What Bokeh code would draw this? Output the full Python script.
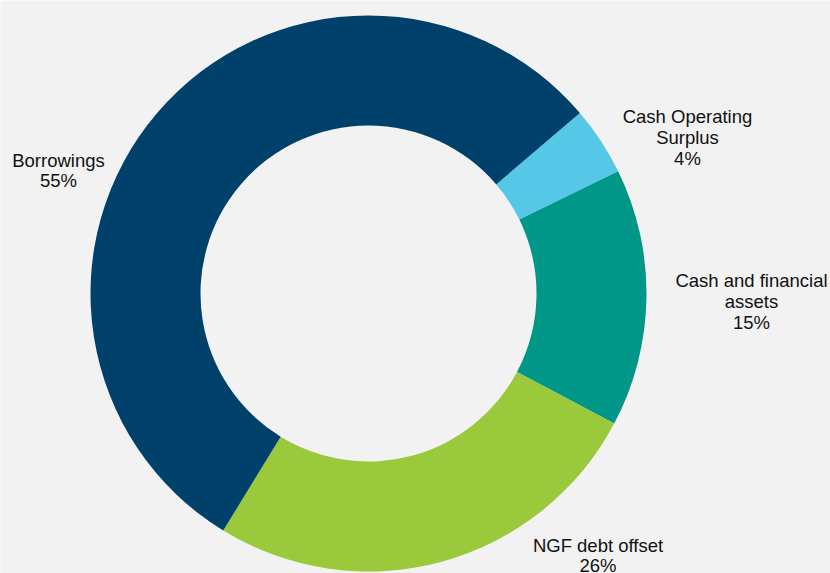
import math
from bokeh.plotting import figure
from bokeh.models import ColumnDataSource, Range1d
from bokeh.core.properties import value
from bokeh.embed import file_html
from bokeh.resources import INLINE

# Data
categories = ["Cash Operating\nSurplus", "Cash and financial\nassets", "NGF debt offset", "Borrowings"]
shares = [4, 15, 26, 55]
colors = ["#55c8e8", "#009688", "#9bc93c", "#00416c"]
label_x = [687, 751, 597.5, 58]
label_y = [436, 272, 18, 403]

W, H = 830, 573
cx, cy = 368, 280
r_out, r_in = 278, 168
start_deg = 40.5

total = sum(shares)
starts, ends = [], []
cur = math.radians(start_deg)
for s in shares:
    nxt = cur - s / total * 2 * math.pi
    starts.append(nxt)
    ends.append(cur)
    cur = nxt

labels = [f"{c}\n{s}%" for c, s in zip(categories, shares)]

src = ColumnDataSource(dict(start=starts, end=ends, color=colors))
lsrc = ColumnDataSource(dict(x=label_x, y=label_y, text=labels))

p = figure(width=W, height=H, output_backend="svg", toolbar_location=None,
           x_range=Range1d(0, W), y_range=Range1d(0, H), min_border=0,
           background_fill_color="#f2f2f2", border_fill_color="#f2f2f2")
p.axis.visible = False
p.grid.visible = False
p.outline_line_color = None

p.annular_wedge(x=cx, y=cy, inner_radius=r_in, outer_radius=r_out,
                start_angle="start", end_angle="end", direction="anticlock",
                color="color", line_color=None, source=src)

p.text(x="x", y="y", text="text", source=lsrc, text_align="center",
       text_baseline="middle", text_font=value("Liberation Sans"),
       text_font_size="18.5px", text_line_height=0.98, text_color="#111111")

html = file_html(p, INLINE)
html = html.replace("<body>", '<body style="margin:0;padding:0;overflow:hidden;background-color:#f2f2f2;">', 1)
open("out.html", "w").write(html)
